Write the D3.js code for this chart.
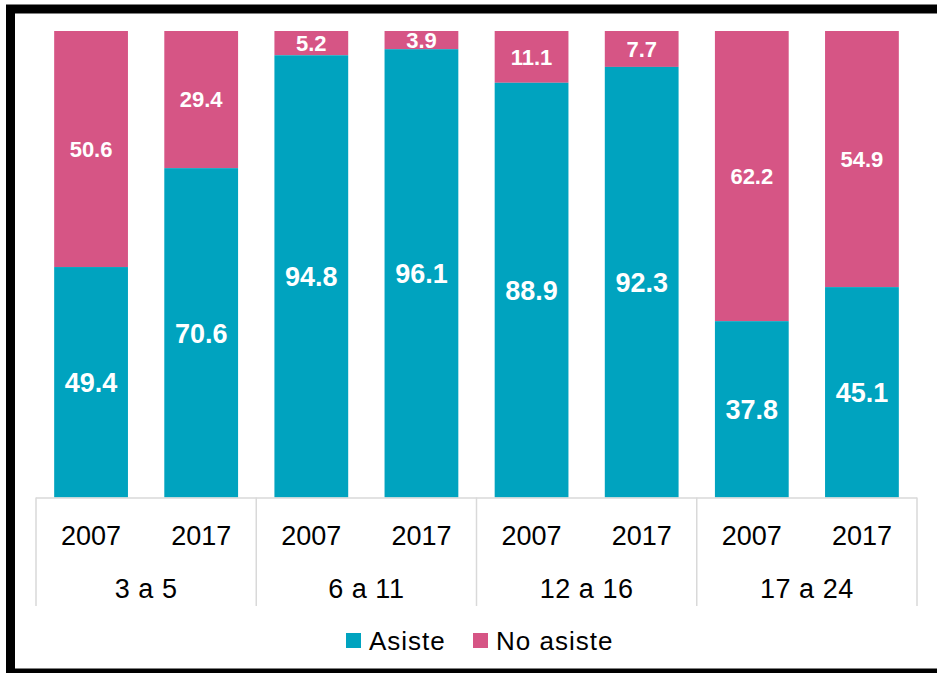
<!DOCTYPE html>
<html>
<head>
<meta charset="utf-8">
<script src="https://cdn.jsdelivr.net/npm/d3@7/dist/d3.min.js"></script>
<style>
  html, body { margin: 0; padding: 0; background: #fff; }
  svg { display: block; font-family: "Liberation Sans", Arial, sans-serif; }
</style>
</head>
<body>
<svg id="chart" width="937" height="673"></svg>
<script>
// Age groups and the two survey years shown inside each group
const groups = ["3 a 5", "6 a 11", "12 a 16", "17 a 24"];
const years = ["2007", "2017"];

// Share (%) attending / not attending school, ordered group by group, 2007 then 2017
const asiste   = [49.4, 70.6, 94.8, 96.1, 88.9, 92.3, 37.8, 45.1];
const noAsiste = [50.6, 29.4, 5.2, 3.9, 11.1, 7.7, 62.2, 54.9];

const seriesNames = ["Asiste", "No asiste"];
const colors = { "Asiste": "#00A3BF", "No asiste": "#D65585" };

const rows = [];
groups.forEach((g, gi) => years.forEach((y, yi) => {
  const i = gi * years.length + yi;
  rows.push({ key: g + "|" + y, group: g, year: y, "Asiste": asiste[i], "No asiste": noAsiste[i] });
}));

const svg = d3.select("#chart");

// Frame around the whole figure
svg.append("rect")
  .attr("x", 10.5).attr("y", 9)
  .attr("width", 932).attr("height", 664)
  .attr("fill", "none").attr("stroke", "#000").attr("stroke-width", 9);

const left = 36, right = 917, baseY = 497.5, topY = 31;

const x = d3.scaleBand()
  .domain(rows.map(d => d.key))
  .range([left, right])
  .paddingInner(0.33)
  .paddingOuter(0.165);

const y = d3.scaleLinear().domain([0, 100]).range([baseY, topY]);

const stack = d3.stack().keys(seriesNames);
const layers = stack(rows);

// Draw "No asiste" first so its labels sit beneath the "Asiste" segments
[layers[1], layers[0]].forEach(layer => {
  const name = layer.key;
  const g = svg.append("g");
  g.selectAll("rect")
    .data(layer)
    .join("rect")
    .attr("x", d => x(d.data.key))
    .attr("width", x.bandwidth())
    .attr("y", d => y(d[1]))
    .attr("height", d => y(d[0]) - y(d[1]))
    .attr("fill", colors[name]);

  g.selectAll("text")
    .data(layer)
    .join("text")
    .attr("x", d => x(d.data.key) + x.bandwidth() / 2)
    .attr("y", d => (y(d[0]) + y(d[1])) / 2)
    .attr("dy", "0.36em")
    .attr("text-anchor", "middle")
    .attr("fill", "#fff")
    .attr("font-weight", "bold")
    .attr("font-size", name === "Asiste" ? 27 : 22)
    .text(d => d.data[name].toFixed(1));
});

// Category axis: baseline, group dividers, year and age-group labels
const axisColor = "#d9d9d9";
const groupW = (right - left) / groups.length;
const axisG = svg.append("g");
axisG.append("line")
  .attr("x1", left).attr("x2", right)
  .attr("y1", baseY + 0.5).attr("y2", baseY + 0.5)
  .attr("stroke", axisColor).attr("stroke-width", 1.5);

axisG.selectAll("line.div")
  .data(d3.range(groups.length + 1))
  .join("line")
  .attr("class", "div")
  .attr("x1", i => left + i * groupW).attr("x2", i => left + i * groupW)
  .attr("y1", baseY).attr("y2", 606)
  .attr("stroke", axisColor).attr("stroke-width", 1.5);

axisG.selectAll("text.year")
  .data(rows)
  .join("text")
  .attr("class", "year")
  .attr("x", d => x(d.key) + x.bandwidth() / 2)
  .attr("y", 535)
  .attr("dy", "0.36em")
  .attr("text-anchor", "middle")
  .attr("font-size", 27)
  .attr("fill", "#000")
  .text(d => d.year);

axisG.selectAll("text.group")
  .data(groups)
  .join("text")
  .attr("class", "group")
  .attr("x", (g, i) => left + (i + 0.5) * groupW)
  .attr("y", 588)
  .attr("dy", "0.36em")
  .attr("text-anchor", "middle")
  .attr("font-size", 27)
  .attr("letter-spacing", 0.5)
  .attr("fill", "#000")
  .text(g => g);

// Legend
const legendItems = [
  { name: "Asiste", x: 346 },
  { name: "No asiste", x: 473 }
];
const lg = svg.append("g");
legendItems.forEach(item => {
  lg.append("rect")
    .attr("x", item.x).attr("y", 633)
    .attr("width", 15).attr("height", 15)
    .attr("fill", colors[item.name]);
  lg.append("text")
    .attr("x", item.x + 23).attr("y", 640.5)
    .attr("dy", "0.36em")
    .attr("font-size", 26)
    .attr("letter-spacing", 1)
    .attr("fill", "#000")
    .text(item.name);
});
</script>
</body>
</html>
